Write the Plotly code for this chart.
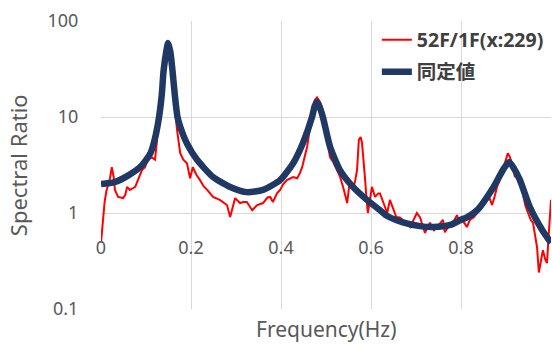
import plotly.graph_objects as go

# ---- data ----
obs_name = "52F/1F(x:229)"
fit_name = "同定値"

obs_freq = [0.000, 0.004, 0.008, 0.012, 0.016, 0.020, 0.024, 0.028, 0.031, 0.038,
            0.049, 0.054, 0.058, 0.064, 0.070, 0.076, 0.082, 0.091, 0.098, 0.104,
            0.113, 0.120, 0.124, 0.128, 0.131, 0.135, 0.140, 0.145, 0.149, 0.154,
            0.159, 0.164, 0.169, 0.176, 0.183, 0.191, 0.198, 0.204, 0.212, 0.220,
            0.228, 0.236, 0.249, 0.264, 0.275, 0.280, 0.287, 0.291, 0.298, 0.309,
            0.316, 0.324, 0.336, 0.347, 0.360, 0.370, 0.376, 0.382, 0.391, 0.398,
            0.405, 0.413, 0.420, 0.427, 0.436, 0.442, 0.447, 0.458, 0.464, 0.469,
            0.475, 0.480, 0.486, 0.491, 0.497, 0.502, 0.509, 0.516, 0.524, 0.531,
            0.538, 0.543, 0.547, 0.553, 0.560, 0.565, 0.569, 0.573, 0.577, 0.580,
            0.584, 0.587, 0.590, 0.593, 0.598, 0.602, 0.609, 0.616, 0.620, 0.627,
            0.636, 0.642, 0.648, 0.656, 0.664, 0.671, 0.680, 0.687, 0.695, 0.702,
            0.709, 0.715, 0.720, 0.726, 0.731, 0.740, 0.750, 0.760, 0.764, 0.772,
            0.782, 0.791, 0.796, 0.802, 0.808, 0.813, 0.820, 0.828, 0.836, 0.842,
            0.849, 0.858, 0.864, 0.869, 0.875, 0.880, 0.886, 0.891, 0.898, 0.904,
            0.909, 0.913, 0.920, 0.925, 0.931, 0.938, 0.943, 0.949, 0.955, 0.960,
            0.965, 0.969, 0.973, 0.977, 0.982, 0.987, 0.991, 0.995, 0.998, 1.000]
obs_ratio = [0.49, 0.90, 1.30, 1.70, 1.95, 2.30, 3.00, 2.40, 1.74, 1.47,
             1.43, 1.55, 1.87, 1.74, 1.80, 1.87, 2.20, 2.80, 3.00, 3.60,
             3.80, 3.60, 5.40, 9.00, 15.0, 17.0, 25.0, 40.0, 48.0, 38.0,
             22.0, 12.0, 7.30, 4.20, 3.60, 3.30, 2.30, 3.00, 2.50, 2.20,
             1.90, 1.74, 1.47, 1.37, 1.25, 1.21, 0.91, 1.05, 1.43, 1.27,
             1.30, 1.30, 1.07, 1.21, 1.27, 1.45, 1.47, 1.30, 1.60, 1.74,
             2.00, 2.20, 2.30, 2.37, 2.30, 2.60, 3.00, 4.90, 7.50, 11.8,
             15.0, 16.0, 14.5, 12.7, 8.00, 5.80, 3.80, 3.40, 2.80, 2.40,
             1.87, 1.50, 1.27, 2.20, 1.74, 2.20, 2.80, 5.80, 6.20, 5.40,
             3.50, 2.20, 1.40, 1.00, 1.40, 1.87, 1.47, 1.60, 1.60, 1.27,
             1.00, 1.37, 1.15, 0.91, 0.90, 0.85, 0.78, 0.715, 0.85, 1.00,
             0.90, 0.75, 0.62, 0.72, 0.79, 0.66, 0.75, 0.85, 0.63, 0.72,
             0.79, 0.95, 0.80, 0.85, 0.78, 0.715, 0.85, 0.90, 1.00, 1.10,
             1.27, 1.60, 1.40, 1.21, 1.50, 1.87, 2.20, 2.67, 3.30, 4.20,
             3.80, 3.30, 2.37, 2.60, 2.20, 1.47, 1.20, 1.00, 0.85, 0.79,
             0.60, 0.44, 0.24, 0.30, 0.41, 0.33, 0.30, 0.60, 1.15, 1.37]

fit_freq = [0.000, 0.030, 0.060, 0.090, 0.110, 0.120, 0.129, 0.135, 0.139, 0.145,
            0.149, 0.154, 0.159, 0.164, 0.170, 0.180, 0.191, 0.213, 0.249, 0.287,
            0.324, 0.360, 0.398, 0.427, 0.449, 0.469, 0.475, 0.480, 0.485, 0.493,
            0.509, 0.531, 0.560, 0.591, 0.620, 0.636, 0.671, 0.709, 0.738, 0.776,
            0.800, 0.813, 0.836, 0.871, 0.895, 0.907, 0.918, 0.931, 0.953, 0.980,
            1.000]
fit_ratio = [2.00, 2.10, 2.45, 3.10, 4.20, 6.00, 10.0, 17.0, 30.0, 48.0,
             59.0, 48.0, 30.0, 17.0, 10.0, 7.00, 5.30, 3.60, 2.37, 1.87,
             1.65, 1.74, 2.20, 3.30, 5.40, 10.0, 13.0, 14.3, 13.0, 10.0,
             4.90, 2.80, 1.87, 1.37, 1.07, 0.93, 0.80, 0.73, 0.715, 0.75,
             0.85, 0.90, 1.07, 1.82, 2.90, 3.40, 2.90, 2.20, 1.15, 0.67,
             0.49]

x_ticks = [0, 0.2, 0.4, 0.6, 0.8]
x_tick_text = ["0", "0.2", "0.4", "0.6", "0.8"]
y_ticks = [0.1, 1, 10, 100]
y_tick_text = ["0.1", "1", "10", "100"]

FONT = "Noto Sans, Noto Sans CJK JP, sans-serif"
GRID = "#d9d9d9"
TXT = "#595959"

fig = go.Figure()
fig.add_trace(go.Scatter(x=obs_freq, y=obs_ratio, mode="lines", name=obs_name,
                         line=dict(color="#ff0000", width=2), legend="legend"))
fig.add_trace(go.Scatter(x=fit_freq, y=fit_ratio, mode="lines", name=fit_name,
                         line=dict(color="#1f3864", width=6.5, shape="spline", smoothing=0.6),
                         legend="legend2"))

leg_common = dict(xanchor="left", yanchor="middle", bgcolor="rgba(0,0,0,0)",
                  borderwidth=0,
                  font=dict(family=FONT, size=19.5, color="#404040", weight="bold"))

fig.update_layout(
    width=552, height=345,
    margin=dict(l=101, r=1, t=21, b=36),
    paper_bgcolor="white", plot_bgcolor="white",
    font=dict(family=FONT, color=TXT),
    showlegend=True,
    legend=dict(x=0.613, y=0.934, **leg_common),
    legend2=dict(x=0.613, y=0.823, **leg_common),
    xaxis=dict(range=[0, 1], tickvals=x_ticks, ticktext=x_tick_text,
               showgrid=True, gridcolor=GRID, gridwidth=1, zeroline=False,
               showline=False, anchor="free", position=1/3,
               ticks="outside", ticklen=18, tickcolor="rgba(0,0,0,0)",
               tickfont=dict(family=FONT, size=18, color=TXT)),
    yaxis=dict(type="log", range=[-1, 2], tickvals=y_ticks, ticktext=y_tick_text,
               showgrid=True, gridcolor=GRID, gridwidth=1, zeroline=False,
               showline=False,
               ticks="outside", ticklen=18, tickcolor="rgba(0,0,0,0)",
               tickfont=dict(family=FONT, size=18, color=TXT)),
    annotations=[
        dict(text="Frequency(Hz)", xref="paper", yref="paper", x=0.5, y=-0.069,
             xanchor="center", yanchor="middle", showarrow=False,
             font=dict(family=FONT, size=21, color=TXT)),
        dict(text="Spectral Ratio", xref="paper", yref="paper", x=-0.184, y=0.5,
             xanchor="center", yanchor="middle", textangle=-90, showarrow=False,
             font=dict(family=FONT, size=22, color=TXT)),
    ],
)
fig.write_html("out.html")
